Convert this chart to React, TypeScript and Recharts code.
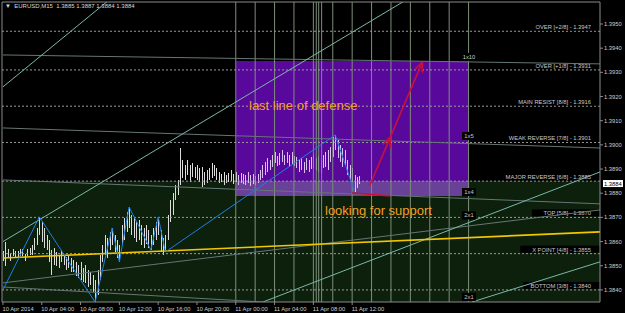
import React from 'react';
import { ComposedChart, Bar, Cell, Line, XAxis, YAxis, ReferenceLine, ReferenceArea, ReferenceDot } from 'recharts';

// EURUSD M15 bars, 10 Apr 2014 00:00 onwards (high / low)
const highs = [
  1.3856, 1.3860, 1.3857, 1.3855, 1.3857, 1.3856, 1.3856, 1.3857, 1.3857, 1.3855,
  1.3857, 1.38574, 1.38586, 1.38615, 1.38656, 1.38702, 1.38681, 1.38656, 1.38627, 1.38607,
  1.38565, 1.38574, 1.38557, 1.38545, 1.38565, 1.38545, 1.38536, 1.38545, 1.38532, 1.38524,
  1.38516, 1.38503, 1.38516, 1.38491, 1.38503, 1.38483, 1.38474, 1.38462, 1.38441, 1.38483,
  1.38545, 1.38586, 1.38627, 1.38615, 1.38640, 1.38656, 1.38627, 1.38607, 1.38586, 1.38669,
  1.38698, 1.38723, 1.38743, 1.38710, 1.38698, 1.38681, 1.38690, 1.38669, 1.38656, 1.38669,
  1.38648, 1.38627, 1.38656, 1.38681, 1.38702, 1.38648, 1.38615, 1.38627, 1.38710, 1.38772,
  1.38801, 1.38834, 1.38855, 1.38987, 1.38938, 1.38917, 1.38938, 1.38917, 1.38925, 1.38909,
  1.38917, 1.38905, 1.38909, 1.38888, 1.38896, 1.38905, 1.38925, 1.38917, 1.38905, 1.38888,
  1.38880, 1.38888, 1.38876, 1.38884, 1.38896, 1.38880, 1.38888, 1.38876, 1.38884, 1.38880,
  1.38876, 1.38888, 1.38876, 1.38880, 1.38872, 1.38880, 1.38896, 1.38917, 1.38929, 1.38946,
  1.38938, 1.38958, 1.38971, 1.38954, 1.38967, 1.38979, 1.38958, 1.38971, 1.38958, 1.38971,
  1.38954, 1.38950, 1.38938, 1.38946, 1.38929, 1.38946, 1.38938, 1.38950, 1.38958, 1.38946,
  1.38954, 1.38938, 1.38958, 1.38971, 1.38979, 1.38991, 1.39033, 1.39041, 1.39020, 1.39000,
  1.38987, 1.38979, 1.38938, 1.38917, 1.38905, 1.38876, 1.38867, 1.38870,
];
const lows = [
  1.3852, 1.3850, 1.3853, 1.3852, 1.3854, 1.3853, 1.3853, 1.3854, 1.3854, 1.3852,
  1.3854, 1.38545, 1.38545, 1.38565, 1.38586, 1.38627, 1.38599, 1.38574, 1.38565, 1.38516,
  1.38462, 1.38503, 1.38499, 1.38491, 1.38516, 1.38503, 1.38483, 1.38491, 1.38474, 1.38474,
  1.38458, 1.38450, 1.38441, 1.38433, 1.38429, 1.38412, 1.38421, 1.38392, 1.38350, 1.38379,
  1.38441, 1.38516, 1.38545, 1.38532, 1.38565, 1.38586, 1.38557, 1.38532, 1.38516, 1.38586,
  1.38607, 1.38640, 1.38656, 1.38627, 1.38615, 1.38599, 1.38607, 1.38586, 1.38574, 1.38590,
  1.38574, 1.38565, 1.38586, 1.38607, 1.38627, 1.38557, 1.38545, 1.38557, 1.38607, 1.38681,
  1.38710, 1.38772, 1.38793, 1.38834, 1.38863, 1.38855, 1.38876, 1.38847, 1.38867, 1.38863,
  1.38855, 1.38847, 1.38826, 1.38834, 1.38843, 1.38855, 1.38863, 1.38872, 1.38855, 1.38843,
  1.38847, 1.38834, 1.38843, 1.38847, 1.38851, 1.38838, 1.38847, 1.38834, 1.38843, 1.38838,
  1.38834, 1.38843, 1.38830, 1.38838, 1.38834, 1.38843, 1.38855, 1.38863, 1.38876, 1.38888,
  1.38896, 1.38909, 1.38925, 1.38913, 1.38917, 1.38929, 1.38917, 1.38925, 1.38909, 1.38921,
  1.38913, 1.38905, 1.38888, 1.38896, 1.38884, 1.38896, 1.38888, 1.38900, 1.38905, 1.38896,
  1.38888, 1.38884, 1.38905, 1.38909, 1.38896, 1.38929, 1.38950, 1.38979, 1.38946, 1.38929,
  1.38909, 1.38917, 1.38876, 1.38855, 1.38847, 1.38805, 1.38822, 1.38840,
];

// time axis in hours from 10 Apr 00:00
const timeTicks = [0, 4, 8, 12, 16, 20, 24, 28, 32, 36];
const timeLabels = ['10 Apr 2014', '10 Apr 04:00', '10 Apr 08:00', '10 Apr 12:00', '10 Apr 16:00',
  '10 Apr 20:00', '11 Apr 00:00', '11 Apr 04:00', '11 Apr 08:00', '11 Apr 12:00'];
const priceTicks = [1.384, 1.385, 1.386, 1.387, 1.388, 1.389, 1.39, 1.391, 1.392, 1.393, 1.394, 1.395];
const lastPrice = 1.3884;

// murrey math levels
const murreyLevels = [1.3947, 1.3931, 1.3916, 1.3901, 1.3885, 1.3870, 1.3855, 1.3840];
const murreyNames = ['OVER  [+2/8]', 'OVER  [+1/8]', 'MAIN RESIST  [8/8]', 'WEAK REVERSE  [7/8]',
  'MAJOR REVERSE  [6/8]', 'TOP  [5/8]', 'X POINT  [4/8]', 'BOTTOM  [3/8]'];

// zigzag swings
const zigzagTimes = [0, 3.75, 9.5, 11.25, 12, 13, 15.25, 16, 16.75, 34.25, 36.25];
const zigzagPrices = [1.3840, 1.38702, 1.3835, 1.38656, 1.38516, 1.38743, 1.38565, 1.38702, 1.38557, 1.39041, 1.38805];

// trend lines: [t1, p1, t2, p2]
const tealLines = [
  [0, 1.3924, 12, 1.39634],
  [0, 1.3860, 42, 1.3961],
  [26.8, 1.3835, 61.55, 1.38888],
  [48.35, 1.3835, 61.55, 1.38516],
];
const gannLines = [
  [0, 1.39372, 61.55, 1.39335],
  [0, 1.3907, 61.55, 1.38987],
  [0, 1.38855, 61.55, 1.38756],
  [0, 1.38429, 61.55, 1.38731],
  [0, 1.38412, 26.8, 1.3835],
];
const gannNames = ['1x10', '1x5', '1x4', '2x1', '2x1'];
const gannLabelPrices = [1.39364, 1.39037, 1.38805, 1.38708, 1.38371];
const yellowLine = [0, 1.38532, 61.55, 1.38640];

// vertical time lines (hours)
const verticalTimes = [24, 26, 28, 30, 32, 32.3, 32.55, 32.85, 34, 36, 38, 40, 42, 44, 46, 48];

// box "last line of defense"
const boxTimes = [24.02, 48.04];
const boxPrices = [1.38789, 1.39347];
const greenTop = 1.38851;

// red arrows
const redBase = [{ t: 35.98, p: 1.38801 }, { t: 39.9, p: 1.38789 }];
const redArrow1 = [{ t: 37.84, p: 1.38834 }, { t: 39.9, p: 1.39029 }];
const redArrow2 = [{ t: 39.9, p: 1.39029 }, { t: 43.2, p: 1.39339 }];

const X_DOMAIN = [-0.1, 61.55];
const Y_DOMAIN = [1.3835, 1.39591];
const FONT = '"Liberation Sans", Arial, sans-serif';

const chartData = highs.map((h, i) => ({ t: i * 0.25, range: [lows[i], h] }));
const zigzag = zigzagTimes.map((t, i) => ({ t, p: zigzagPrices[i] }));

const murreyLabel = (text: string) => (props: any) => {
  const vb = props.viewBox;
  const xr = vb.x + vb.width - 9;
  const w = text.length * 2.9 + 4;
  return (
    <g>
      <rect x={xr - w} y={vb.y - 8} width={w + 9} height={7} fill="#000" />
      <text x={xr} y={vb.y - 2} textAnchor="end" fontSize={5.8} fontFamily={FONT} fill="#c8c8c8">{text}</text>
    </g>
  );
};

const gannLabel = (text: string) => (props: any) => {
  const vb = props.viewBox;
  const cx = vb.x + vb.width / 2;
  const cy = vb.y + vb.height / 2;
  return (
    <g>
      <rect x={cx - 7} y={cy - 4} width={14} height={8} fill="#000" />
      <text x={cx} y={cy + 2} textAnchor="middle" fontSize={5.8} fontFamily={FONT} fill="#c8c8c8">{text}</text>
    </g>
  );
};

const priceBox = (props: any) => {
  const vb = props.viewBox;
  const x = vb.x + vb.width + 3;
  return (
    <g>
      <rect x={x} y={vb.y - 3.5} width={20} height={7} fill="#fff" />
      <text x={x + 1} y={vb.y + 2} fontSize={5.8} fontFamily={FONT} fill="#000">{lastPrice.toFixed(4)}</text>
    </g>
  );
};

const XTick = (props: any) => {
  const idx = timeTicks.indexOf(props.payload.value);
  return (
    <text x={props.x - 0.5} y={props.y + 4} fontSize={5.8} fontFamily={FONT} fill="#cfcfcf" textAnchor="start">
      {timeLabels[idx]}
    </text>
  );
};

const YTick = (props: any) => (
  <text x={props.x} y={props.y + 2} fontSize={5.8} fontFamily={FONT} fill="#cfcfcf" textAnchor="start">
    {Number(props.payload.value).toFixed(4)}
  </text>
);

const Stick = (props: any) => {
  const x = Math.round(props.x + props.width / 2);
  const top = Math.min(props.y, props.y + props.height);
  const h = Math.max(Math.abs(props.height), 1);
  return <rect x={x} y={top} width={1} height={h} fill={props.fill} shapeRendering="crispEdges" />;
};

export default function App() {
  return (
    <div style={{ position: 'absolute', left: 0, top: 0, width: 625, height: 313, background: '#000', overflow: 'hidden' }}>
      <ComposedChart width={625} height={313} data={chartData} margin={{ top: 2, right: 0, bottom: 0, left: 2 }}>
        <defs>
          <marker id="redHead" viewBox="0 0 10 10" refX="9" refY="5" markerWidth="10" markerHeight="10" orient="auto" markerUnits="userSpaceOnUse">
            <path d="M0,1 L10,5 L0,9" fill="none" stroke="#c8103c" strokeWidth="1.6" />
          </marker>
        </defs>
        <XAxis dataKey="t" type="number" domain={X_DOMAIN} allowDataOverflow ticks={timeTicks} height={11} interval={0}
          tick={<XTick />} tickSize={3} tickMargin={2} axisLine={{ stroke: '#8a8a8a' }} tickLine={{ stroke: '#8a8a8a' }} />
        <YAxis orientation="right" type="number" domain={Y_DOMAIN} allowDataOverflow ticks={priceTicks} width={25}
          interval={0} tick={<YTick />} tickSize={3} tickMargin={1} axisLine={{ stroke: '#8a8a8a' }} tickLine={{ stroke: '#8a8a8a' }} />

        <ReferenceArea x1={X_DOMAIN[0]} x2={X_DOMAIN[1]} y1={Y_DOMAIN[0]} y2={greenTop} fill="#0c200c" fillOpacity={1} stroke="none" ifOverflow="hidden" />
        <ReferenceArea x1={boxTimes[0]} x2={boxTimes[1]} y1={boxPrices[0]} y2={boxPrices[1]} fill="#58099c" fillOpacity={1} stroke="none" />
        <ReferenceArea x1={boxTimes[0]} x2={boxTimes[1]} y1={boxPrices[0]} y2={greenTop} fill="#6a4198" fillOpacity={1} stroke="none" />

        {verticalTimes.map((t, i) => (
          <ReferenceLine key={`v${i}`} x={t} stroke="#7c8e78" strokeWidth={1} />
        ))}

        {murreyLevels.map((p, i) => (
          <ReferenceLine key={`m${i}`} y={p} stroke="#9a9a9a" strokeDasharray="2 2"
            label={murreyLabel(`${murreyNames[i]} - ${p.toFixed(4)}`)} />
        ))}

        {gannLines.map((l, i) => (
          <ReferenceLine key={`g${i}`} segment={[{ x: l[0], y: l[1] }, { x: l[2], y: l[3] }]} stroke="#667676" ifOverflow="hidden" />
        ))}
        {tealLines.map((l, i) => (
          <ReferenceLine key={`tl${i}`} segment={[{ x: l[0], y: l[1] }, { x: l[2], y: l[3] }]} stroke="#7ab8aa" ifOverflow="hidden" />
        ))}
        <ReferenceLine segment={[{ x: yellowLine[0], y: yellowLine[1] }, { x: yellowLine[2], y: yellowLine[3] }]} stroke="#f2c600" strokeWidth={1.6} ifOverflow="hidden" />

        <Bar dataKey="range" barSize={1} isAnimationActive={false} shape={<Stick />}>
          {chartData.map((d, i) => (
            <Cell key={`c${i}`} fill={d.t >= boxTimes[0] ? '#dcc0f2' : '#dcdcdc'} />
          ))}
        </Bar>

        <Line data={zigzag} dataKey="p" stroke="#1e7fe6" strokeWidth={1} dot={false} isAnimationActive={false} />
        <Line data={redBase} dataKey="p" stroke="#c8103c" strokeWidth={1.6} dot={false} isAnimationActive={false} />
        <Line data={redArrow1} dataKey="p" stroke="#c8103c" strokeWidth={1.6} dot={false} isAnimationActive={false} markerEnd="url(#redHead)" />
        <Line data={redArrow2} dataKey="p" stroke="#c8103c" strokeWidth={1.6} dot={false} isAnimationActive={false} markerEnd="url(#redHead)" />

        {gannNames.map((n, i) => (
          <ReferenceDot key={`gl${i}`} x={boxTimes[1]} y={gannLabelPrices[i]} r={1} fill="none" stroke="none" label={gannLabel(n)} />
        ))}

        <ReferenceLine y={lastPrice} stroke="none" label={priceBox} />
        <ReferenceLine x={X_DOMAIN[0]} stroke="#8a8a8a" />
        <ReferenceLine y={Y_DOMAIN[1]} stroke="#8a8a8a" />
      </ComposedChart>

      <div style={{ position: 'absolute', left: 5, top: 2, fontFamily: FONT, fontSize: 6, color: '#d8d8d8', whiteSpace: 'pre', lineHeight: '9px' }}>
        {'\u25BC  EURUSD,M15  1.3885 1.3887 1.3884 1.3884'}
      </div>
      <div style={{ position: 'absolute', left: 249, top: 99, fontFamily: FONT, fontSize: 13, color: '#f0a028', lineHeight: '13px', whiteSpace: 'pre' }}>
        last line of defense
      </div>
      <div style={{ position: 'absolute', left: 325, top: 204, fontFamily: FONT, fontSize: 13, color: '#f0a028', lineHeight: '13px', whiteSpace: 'pre' }}>
        looking for support
      </div>
    </div>
  );
}
